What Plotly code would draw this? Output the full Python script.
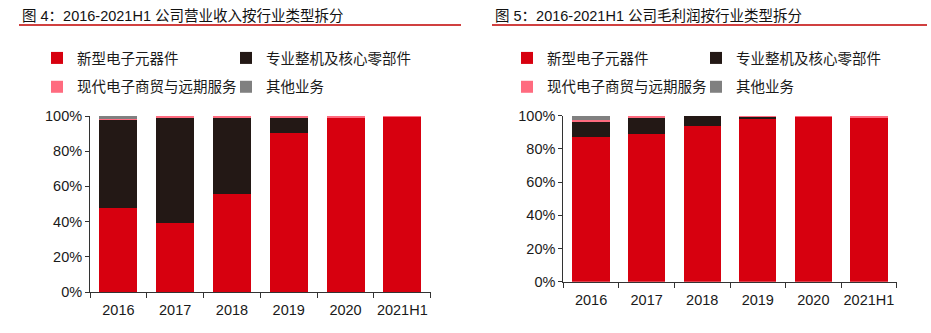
import plotly.graph_objects as go

categories = ["2016", "2017", "2018", "2019", "2020", "2021H1"]
series_names = ["新型电子元器件", "专业整机及核心零部件", "现代电子商贸与远期服务", "其他业务"]
colors = ["#d7000f", "#231815", "#ff6b7f", "#808080"]

# 图4 营业收入结构 (share)
rev_components = [0.479, 0.392, 0.557, 0.903, 0.993, 0.995]
rev_machines = [0.502, 0.600, 0.436, 0.090, 0.000, 0.000]
rev_trade = [0.002, 0.008, 0.007, 0.007, 0.007, 0.005]
rev_other = [0.017, 0.000, 0.000, 0.000, 0.000, 0.000]

# 图5 毛利润结构 (share)
gp_components = [0.870, 0.892, 0.938, 0.980, 0.995, 0.990]
gp_machines = [0.096, 0.092, 0.062, 0.015, 0.000, 0.000]
gp_trade = [0.007, 0.016, 0.000, 0.005, 0.005, 0.010]
gp_other = [0.027, 0.000, 0.000, 0.000, 0.000, 0.000]

title_left = "图 4：2016-2021H1 公司营业收入按行业类型拆分"
title_right = "图 5：2016-2021H1 公司毛利润按行业类型拆分"

FONT = "Liberation Sans, Arial, Noto Sans CJK SC, sans-serif"
W, H = 931, 333

fig = go.Figure()
left = [rev_components, rev_machines, rev_trade, rev_other]
right = [gp_components, gp_machines, gp_trade, gp_other]
# legend columns: series 0,2 in first column; 1,3 in second column
left_legends = ["legend", "legend2", "legend", "legend2"]
right_legends = ["legend3", "legend4", "legend3", "legend4"]
for i in range(4):
    fig.add_trace(go.Bar(x=categories, y=left[i], name=series_names[i],
                         marker=dict(color=colors[i], line=dict(width=0)),
                         legendgroup="L%d" % i, legend=left_legends[i],
                         xaxis="x", yaxis="y"))
for i in range(4):
    fig.add_trace(go.Bar(x=categories, y=right[i], name=series_names[i],
                         marker=dict(color=colors[i], line=dict(width=0)),
                         legendgroup="R%d" % i, legend=right_legends[i],
                         xaxis="x2", yaxis="y2"))

axis_common = dict(showline=True, linecolor="#333333", linewidth=1, ticks="outside",
                   tickcolor="#333333", tickfont=dict(family=FONT, size=14.5, color="#1a1a1a"),
                   showgrid=False, zeroline=False, fixedrange=True, automargin=False)

legend_common = dict(orientation="v", traceorder="grouped", xanchor="left", yanchor="top",
                     font=dict(family=FONT, size=14.5, color="#1a1a1a"),
                     tracegroupgap=7, itemwidth=30, bgcolor="rgba(0,0,0,0)", borderwidth=0)
LEG_TOP = 1 - 42 / H

fig.update_layout(
    width=W, height=H, margin=dict(l=0, r=0, t=0, b=0, autoexpand=False),
    paper_bgcolor="white", plot_bgcolor="white",
    barmode="stack", bargap=0.33,
    font=dict(family=FONT, size=14.5, color="#1a1a1a"),
    xaxis=dict(domain=[90 / W, 430.7 / W], anchor="y", tickson="boundaries", ticklen=5,
               tickangle=0, ticklabelstandoff=5, **axis_common),
    yaxis=dict(domain=[(H - 292) / H, (H - 116) / H], anchor="x", range=[0, 1],
               tickvals=[0, 0.2, 0.4, 0.6, 0.8, 1.0], tickformat=".0%", ticklen=4, **axis_common),
    xaxis2=dict(domain=[563.3 / W, 896.7 / W], anchor="y2", tickson="boundaries", ticklen=5,
                tickangle=0, ticklabelstandoff=5, **axis_common),
    yaxis2=dict(domain=[(H - 281.7) / H, (H - 115.7) / H], anchor="x2", range=[0, 1],
                tickvals=[0, 0.2, 0.4, 0.6, 0.8, 1.0], tickformat=".0%", ticklen=4, **axis_common),
    legend=dict(x=37 / W, y=LEG_TOP, **legend_common),
    legend2=dict(x=226 / W, y=LEG_TOP, **legend_common),
    legend3=dict(x=507 / W, y=LEG_TOP, **legend_common),
    legend4=dict(x=696 / W, y=LEG_TOP, **legend_common),
    showlegend=True,
)

# titles with red underline
fig.add_annotation(text=title_left, x=20 / W, y=1 - 16 / H, xref="paper", yref="paper",
                   xanchor="left", yanchor="middle", showarrow=False,
                   font=dict(family=FONT, size=14.5, color="#111111"))
fig.add_annotation(text=title_right, x=493 / W, y=1 - 16 / H, xref="paper", yref="paper",
                   xanchor="left", yanchor="middle", showarrow=False,
                   font=dict(family=FONT, size=14.5, color="#111111"))
fig.add_shape(type="line", xref="paper", yref="paper", x0=19 / W, x1=461 / W,
              y0=1 - 25 / H, y1=1 - 25 / H, line=dict(color="#c00000", width=1.5))
fig.add_shape(type="line", xref="paper", yref="paper", x0=492 / W, x1=927 / W,
              y0=1 - 25 / H, y1=1 - 25 / H, line=dict(color="#c00000", width=1.5))

fig.write_html("out.html")
